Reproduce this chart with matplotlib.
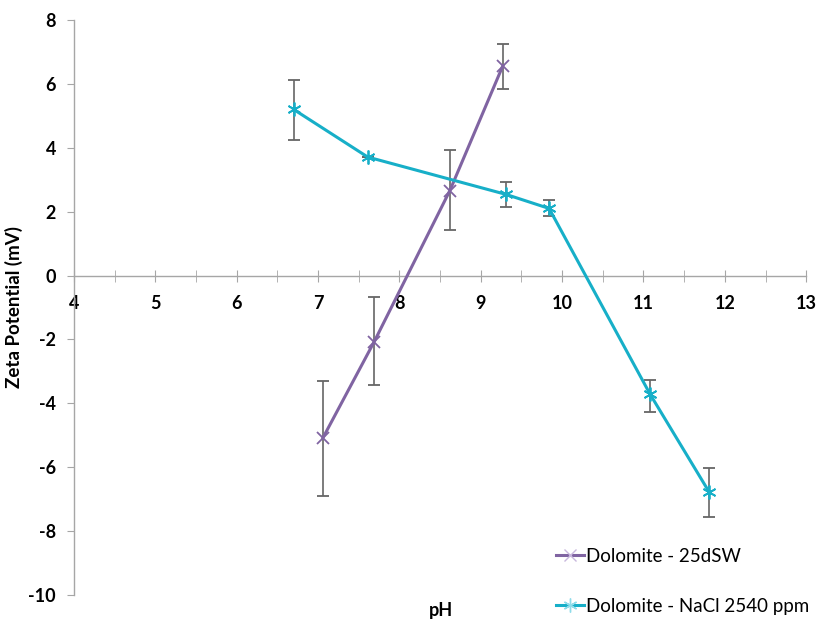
import matplotlib
matplotlib.use("Agg")
import matplotlib.pyplot as plt
from matplotlib.lines import Line2D
from matplotlib.ticker import MultipleLocator

plt.rcParams['axes.unicode_minus'] = False

# Data
ph_dsw = [7.06, 7.69, 8.62, 9.27]
zeta_dsw = [-5.08, -2.07, 2.66, 6.56]
err_dsw_low = [1.82, 1.35, 1.24, 0.71]
err_dsw_high = [1.79, 1.41, 1.27, 0.68]

ph_nacl = [6.70, 7.61, 9.31, 9.84, 11.08, 11.81]
zeta_nacl = [5.20, 3.71, 2.54, 2.10, -3.71, -6.79]
err_nacl_low = [0.95, 0.0, 0.40, 0.25, 0.56, 0.76]
err_nacl_high = [0.91, 0.0, 0.38, 0.28, 0.45, 0.75]

label_dsw = "Dolomite - 25dSW"
label_nacl = "Dolomite - NaCl 2540 ppm"

purple = "#8064A2"
cyan = "#17AFC8"

fig = plt.figure(figsize=(8.16, 6.19), dpi=100)
ax = fig.add_axes([0.0907, 0.0388, 0.8973, 0.9289])

ax.errorbar(ph_dsw, zeta_dsw, yerr=[err_dsw_low, err_dsw_high], color=purple,
            lw=2.2, marker='x', ms=9, mew=1.3, ecolor='#666666', elinewidth=1.2,
            capsize=4, capthick=1.2, zorder=3)
ax.errorbar(ph_nacl, zeta_nacl, yerr=[err_nacl_low, err_nacl_high], color=cyan,
            lw=2.2, marker=(6, 2, 0), ms=10, mew=1.3, ecolor='#666666', elinewidth=1.2,
            capsize=4, capthick=1.2, zorder=3)

ax.set_xlim(4, 13)
ax.set_ylim(-10, 8)
for s in ['top', 'right']:
    ax.spines[s].set_visible(False)
ax.spines['left'].set_position(('data', 4))
ax.spines['bottom'].set_position(('data', 0))
for s in ['left', 'bottom']:
    ax.spines[s].set_color('#A6A6A6')
    ax.spines[s].set_linewidth(1.0)

ax.xaxis.set_major_locator(MultipleLocator(1))
ax.xaxis.set_minor_locator(MultipleLocator(0.5))
ax.yaxis.set_major_locator(MultipleLocator(2))
ax.tick_params(axis='x', which='both', direction='inout', length=8, color='#A6A6A6', pad=10)
ax.tick_params(axis='y', which='major', direction='out', length=5, color='#A6A6A6', pad=8)

for lbl in ax.get_xticklabels() + ax.get_yticklabels():
    lbl.set_fontfamily('Lato')
    lbl.set_fontweight('bold')
    lbl.set_fontsize(13)

ax.set_ylabel("Zeta Potential (mV)", fontfamily='Lato', fontweight='bold', fontsize=13.5)
ax.yaxis.set_label_coords(-0.07, 0.5)
fig.text(0.54, 0.0, "pH", fontfamily='Lato', fontweight='bold', fontsize=13, ha='center', va='bottom')

handles = [
    Line2D([], [], color=purple, lw=2.2, marker='x', ms=9, mew=1.0, markeredgecolor='#C9B8DD'),
    Line2D([], [], color=cyan, lw=2.2, marker=(6, 2, 0), ms=10, mew=1.0, markeredgecolor='#8FDCEA'),
]
fig.legend(handles, [label_dsw, label_nacl], loc='lower right', bbox_to_anchor=(1.012, -0.02),
           frameon=False, prop={'family': 'Lato', 'size': 13.5}, handlelength=1.5,
           handletextpad=0.1, labelspacing=1.75)

fig.savefig("out.png", dpi=100)
